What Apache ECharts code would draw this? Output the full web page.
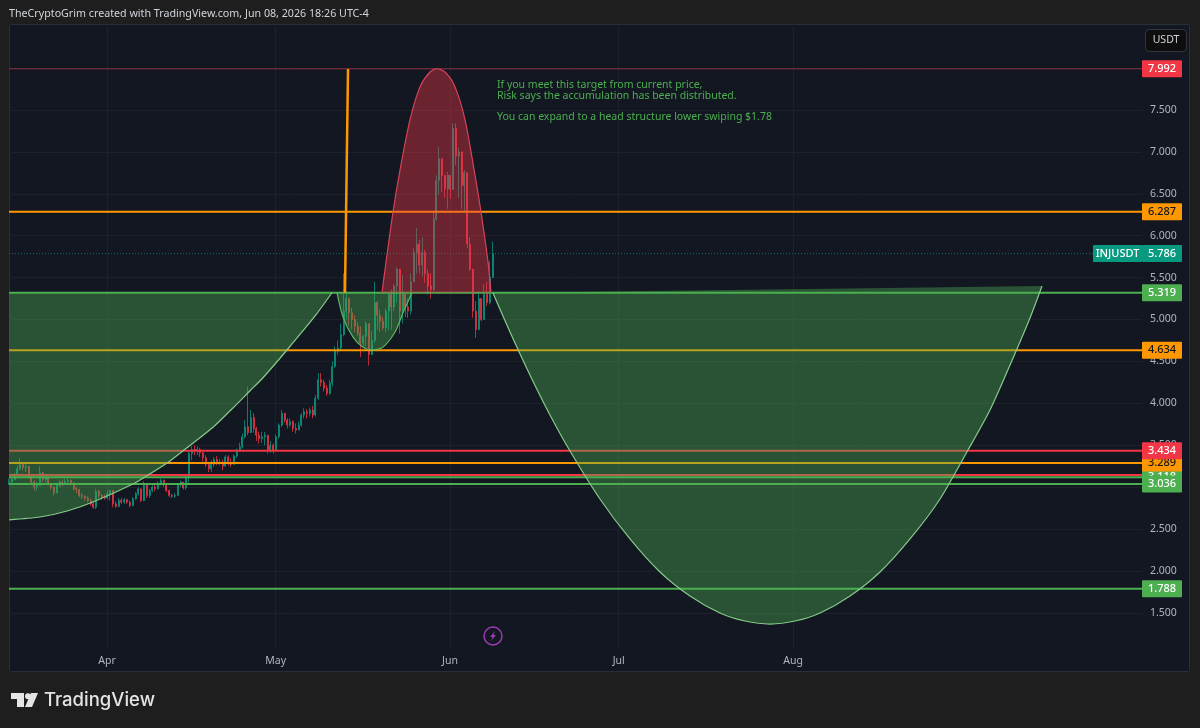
<!DOCTYPE html>
<html>
<head>
<meta charset="utf-8">
<style>html,body{margin:0;padding:0;background:#1e1e1e}#chart{width:1200px;height:728px}</style>
<script src="https://cdn.jsdelivr.net/npm/echarts@6/dist/echarts.min.js"></script>
</head>
<body>
<div id="chart"></div>
<script>
// Time is expressed in day-of-year 2026. Prices in USDT.
const firstCandleDay = 72.57;
const candleStep = 0.5;
const monthTicks = [90, 120, 151, 181, 212];
const monthLabels = ['Apr', 'May', 'Jun', 'Jul', 'Aug'];
const priceTicks = [1.5, 2, 2.5, 3, 3.5, 4, 4.5, 5, 5.5, 6, 6.5, 7, 7.5, 8];

const closes = [
 3.06,3.09,3.15,3.22,3.27,3.23,3.25,3.12,3.06,3.00,3.02,3.17,3.09,3.11,3.04,3.00,2.93,3.02,3.06,3.04,
 3.07,3.08,3.05,2.98,2.97,2.90,2.89,2.87,2.84,2.80,2.76,2.95,2.90,2.88,2.87,2.92,2.96,2.80,2.77,2.84,
 2.82,2.85,2.82,2.78,2.86,2.92,2.98,2.84,3.04,2.90,2.96,3.00,2.98,3.05,3.08,3.03,2.96,2.90,2.89,2.90,
 3.03,3.06,2.99,3.12,3.40,3.45,3.43,3.45,3.41,3.35,3.27,3.22,3.27,3.33,3.29,3.30,3.25,3.36,3.29,3.27,
 3.37,3.44,3.48,3.60,3.72,3.65,3.83,3.70,3.62,3.58,3.60,3.62,3.44,3.50,3.44,3.60,3.74,3.88,3.80,3.74,
 3.78,3.70,3.68,3.74,3.86,3.90,3.88,3.92,3.86,4.06,4.28,4.25,4.18,4.12,4.24,4.44,4.62,4.66,4.82,5.10,
 5.25,5.08,5.00,4.92,4.84,4.72,4.80,4.95,4.58,4.75,5.20,5.05,4.98,4.90,5.10,5.30,5.15,5.40,5.60,5.10,
 5.30,5.15,5.10,5.45,5.80,5.90,5.65,5.80,5.55,5.40,5.36,6.20,6.66,6.92,6.72,6.56,6.72,6.55,7.28,6.95,
 7.00,6.60,6.75,5.90,5.60,5.10,4.88,5.25,5.00,5.30,5.20,5.50,5.786
];
const highs = [
 3.10,3.12,3.17,3.26,3.34,3.30,3.28,3.25,3.14,3.08,3.06,3.25,3.18,3.14,3.12,3.05,3.01,3.05,3.09,3.09,
 3.10,3.11,3.09,3.06,3.00,2.98,2.93,2.90,2.89,2.86,2.82,2.98,2.97,2.92,2.91,2.96,2.97,2.90,2.83,2.87,
 2.87,2.87,2.86,2.84,2.88,2.94,3.00,2.98,3.07,3.04,2.98,3.02,3.03,3.07,3.10,3.09,3.05,2.97,2.92,2.93,
 3.05,3.08,3.06,3.14,3.44,3.49,3.50,3.49,3.47,3.42,3.38,3.30,3.32,3.36,3.37,3.34,3.33,3.38,3.38,3.34,
 3.39,3.46,3.53,3.64,3.80,4.20,3.92,3.88,3.72,3.66,3.66,3.66,3.60,3.55,3.52,3.63,3.76,3.92,3.89,3.82,
 3.82,3.80,3.76,3.78,3.88,3.94,3.93,3.95,3.97,4.10,4.36,4.36,4.28,4.22,4.28,4.50,4.68,4.75,4.95,5.55,
 5.32,5.26,5.14,5.05,4.97,4.92,4.82,4.98,4.80,4.86,5.45,5.22,5.12,5.03,5.13,5.32,5.36,5.42,5.62,5.42,
 5.53,5.30,5.25,5.55,5.85,6.09,5.95,5.98,5.83,5.60,5.55,6.28,6.72,7.06,6.80,6.72,6.76,6.72,7.34,7.34,
 7.05,6.96,6.78,6.40,5.98,5.50,5.22,5.33,5.22,5.42,5.45,5.70,5.93
];
const lows = [
 3.03,3.05,3.08,3.14,3.20,3.20,3.18,3.10,3.03,2.96,2.96,3.03,3.06,3.06,3.02,2.97,2.90,2.93,3.00,3.01,
 3.03,3.04,3.03,2.96,2.93,2.88,2.86,2.84,2.82,2.78,2.74,2.74,2.87,2.85,2.85,2.85,2.84,2.76,2.75,2.76,
 2.80,2.80,2.80,2.76,2.77,2.85,2.90,2.82,2.83,2.87,2.87,2.94,2.95,2.97,3.02,3.00,2.94,2.88,2.87,2.87,
 2.89,3.00,2.97,2.97,3.05,3.32,3.38,3.38,3.36,3.31,3.24,3.18,3.18,3.24,3.26,3.26,3.20,3.25,3.26,3.24,
 3.27,3.35,3.42,3.46,3.58,3.62,3.68,3.65,3.55,3.52,3.53,3.50,3.40,3.41,3.40,3.44,3.58,3.72,3.77,3.70,
 3.72,3.66,3.64,3.68,3.72,3.82,3.82,3.84,3.82,3.84,4.04,4.20,4.14,4.09,4.10,4.20,4.42,4.58,4.62,4.80,
 5.00,4.93,4.88,4.85,4.80,4.55,4.68,4.68,4.45,4.58,4.72,4.88,4.85,4.87,4.85,4.87,4.88,5.10,5.20,4.83,
 4.95,5.03,5.02,5.06,5.45,5.55,5.55,5.52,5.44,5.30,5.25,5.34,6.18,6.49,6.52,6.45,6.32,6.44,6.60,6.84,
 6.45,6.32,6.29,5.85,5.58,5.02,4.78,4.90,4.98,5.08,5.16,5.18,5.50
];

// Price levels, listed in the stacking order of their axis tags.
const levelPrices = [7.992, 6.287, 5.319, 4.634, 3.144, 3.118, 3.289, 3.434, 3.036, 1.788];
const levelKinds  = ['target', 'orange', 'green', 'orange', 'red', 'green', 'orange', 'red', 'green', 'green'];
const lastPrice = 5.786;
const lastSymbol = 'INJUSDT';

// Drawn shapes, as [day, price].
const leftCup = [[72.6,5.319],[72.6,2.61],[78.1,2.643],[82.9,2.715],[87.5,2.822],[94.6,3.037],[97.6,3.156],[101.2,3.312],[104.4,3.479],[108.9,3.717],[112.4,3.944],[115.4,4.147],[117.7,4.302],[122.0,4.636],[127.0,5.042],[130.0,5.319]];
const smallCup = [[130.9,5.319],[131.97,5.03],[133.75,4.79],[135.53,4.67],[137.3,4.636],[139.08,4.67],[141.22,4.85],[142.64,5.08],[144.24,5.319]];
const redDome = [[138.9,5.319],[139.62,5.686],[140.86,6.283],[142.11,6.784],[143.88,7.381],[145.66,7.774],[147.44,7.953],[148.68,7.992],[150.11,7.953],[151.89,7.774],[153.67,7.381],[155.44,6.724],[156.51,6.283],[157.76,5.686],[158.29,5.319]];
const rightCup = [[158.64,5.316],[161.67,4.851],[165.22,4.338],[168.78,3.86],[172.34,3.431],[177.67,2.858],[183.01,2.381],[188.34,1.987],[193.68,1.701],[199.01,1.498],[203.46,1.402],[207.91,1.366],[212.35,1.402],[216.8,1.498],[222.13,1.701],[227.47,1.987],[232.8,2.381],[238.14,2.858],[243.12,3.443],[247.03,3.92],[250.59,4.457],[254.14,5.018],[256.28,5.40]];
const trendLine = [[132.32,5.32],[132.86,7.99]];

const noteLines = ['If you meet this target from current price,', 'Risk says the accumulation has been distributed.', 'You can expand to a head structure lower swiping $1.78'];
const headerText = 'TheCryptoGrim created with TradingView.com, Jun 08, 2026 18:26 UTC-4';

const C = { up:'#089981', down:'#f23645', orange:'#ff9800', green:'#4caf50', pane:'#131722', text:'#b2b5be', grid:'#1d212c' };
const kindStyle = {
  target:{ line:'#8a2f40', width:1, box:'#f23645', ink:'#ffffff' },
  red:{ line:C.down, width:2, box:C.down, ink:'#ffffff' },
  orange:{ line:C.orange, width:2, box:C.orange, ink:'#131722' },
  green:{ line:C.green, width:2, box:C.green, ink:'#ffffff' }
};
const FONT = '"Noto Sans", sans-serif';

const candleData = closes.map((c, i) => {
  const o = i ? closes[i - 1] : lows[0];
  return [firstCandleDay + i * candleStep, o, c, Math.min(lows[i], o, c), Math.max(highs[i], o, c)];
});

function tag(x, y, w, text, box, ink) {
  const h = 17;
  return [
    { type:'rect', shape:{ x, y:y - h / 2, width:w, height:h, r:1 }, style:{ fill:box } },
    { type:'text', style:{ x:x + w / 2, y, text, fill:ink, font:'500 11px ' + FONT, align:'center', verticalAlign:'middle' } }
  ];
}

function shapeSeries(points, fill, stroke, closedCurve, z) {
  return {
    type:'custom', coordinateSystem:'cartesian2d', data:points, encode:{ x:0, y:1 }, z, silent:true,
    renderItem(params, api) {
      if (params.dataIndex !== 0) return null;
      const px = points.map(p => api.coord(p));
      const curve = closedCurve ? px.slice(1) : px;
      return { type:'group', children:[
        { type:'polygon', shape:{ points:px }, style:{ fill, stroke:'none' } },
        { type:'polyline', shape:{ points:curve, smooth:0.25 }, style:{ fill:'none', stroke, lineWidth:1.2 } }
      ]};
    }
  };
}

const chart = echarts.init(document.getElementById('chart'), null, { renderer:'canvas' });
chart.setOption({
  animation:false,
  backgroundColor:'#1e1e1e',
  grid:{ left:9, right:58, top:24, bottom:80, show:false },
  xAxis:{
    type:'value', min:72.57, max:274.06,
    axisLine:{ show:false },
    axisTick:{ show:false, customValues:monthTicks },
    axisLabel:{ customValues:monthTicks, color:C.text, fontFamily:FONT, fontSize:10.5, margin:8,
      formatter:v => monthLabels[monthTicks.indexOf(v)] || '' },
    splitLine:{ show:true, lineStyle:{ color:C.grid, width:1 } }
  },
  yAxis:{
    type:'value', position:'right', min:1.08, max:8.526,
    axisLine:{ show:false },
    axisTick:{ show:false, customValues:priceTicks },
    axisLabel:{ customValues:priceTicks, color:C.text, fontFamily:FONT, fontSize:10.5, margin:8,
      formatter:v => v.toFixed(3) },
    splitLine:{ show:true, lineStyle:{ color:C.grid, width:1 } }
  },
  graphic:{ elements:[
    { type:'rect', z:-1, silent:true, shape:{ x:9.5, y:24.5, width:1180, height:647, r:1 }, style:{ fill:C.pane, stroke:'#2a2e39', lineWidth:1 } },
    { type:'text', z:50, silent:true, style:{ x:9, y:14, text:headerText, fill:'#d1d4dc', font:'10.7px ' + FONT, verticalAlign:'middle' } },
    { type:'text', z:50, silent:true, style:{ x:497, y:85, text:noteLines[0], fill:C.green, font:'10.5px ' + FONT, verticalAlign:'middle' } },
    { type:'text', z:50, silent:true, style:{ x:497, y:96, text:noteLines[1], fill:C.green, font:'10.5px ' + FONT, verticalAlign:'middle' } },
    { type:'text', z:50, silent:true, style:{ x:497, y:117, text:noteLines[2], fill:C.green, font:'10.5px ' + FONT, verticalAlign:'middle' } },
    { type:'rect', z:50, silent:true, shape:{ x:1145.5, y:29.5, width:41, height:22, r:4 }, style:{ fill:'#0e0e0e', stroke:'#33363f', lineWidth:1 } },
    { type:'text', z:51, silent:true, style:{ x:1166, y:40.5, text:'USDT', fill:'#d1d4dc', font:'10.5px ' + FONT, align:'center', verticalAlign:'middle' } },
    { type:'circle', z:50, silent:true, shape:{ cx:493, cy:636, r:9 }, style:{ fill:'none', stroke:'#a23bb8', lineWidth:1.4 } },
    { type:'polygon', z:50, silent:true, shape:{ points:[[495,631],[490,637],[492.7,637],[491,641],[496,635],[493.4,635]] }, style:{ fill:'#a23bb8' } },
    { type:'polygon', z:50, silent:true, shape:{ points:[[11,693],[24,693],[24,707],[17,707],[17,699],[11,699]] }, style:{ fill:'#e4e4e4' } },
    { type:'circle', z:50, silent:true, shape:{ cx:28, cy:696.2, r:3 }, style:{ fill:'#e4e4e4' } },
    { type:'polygon', z:50, silent:true, shape:{ points:[[31,693],[38,693],[32,707],[25,707]] }, style:{ fill:'#e4e4e4' } },
    { type:'text', z:50, silent:true, style:{ x:44, y:700, text:'TradingView', fill:'#e4e4e4', font:'500 18.5px Inter, sans-serif', verticalAlign:'middle' } }
  ]},
  series:[
    {
      type:'candlestick', name:'INJUSDT', data:candleData, z:2, barWidth:1.5, silent:true,
      itemStyle:{ color:C.up, color0:C.down, borderColor:C.up, borderColor0:C.down, borderWidth:1, opacity:0.75 }
    },
    {
      type:'line', data:trendLine, z:3, silent:true, showSymbol:false, clip:false,
      lineStyle:{ color:C.orange, width:2.5 }
    },
    {
      type:'custom', coordinateSystem:'cartesian2d', z:3, silent:true,
      data:levelPrices.map((p, i) => [firstCandleDay, p, i]), encode:{ x:0, y:1 },
      renderItem(params, api) {
        const s = kindStyle[levelKinds[api.value(2)]];
        const y = api.coord([api.value(0), api.value(1)])[1];
        const g = params.coordSys;
        return { type:'group', children:[
          { type:'line', shape:{ x1:g.x, y1:y, x2:g.x + g.width, y2:y }, style:{ stroke:s.line, lineWidth:s.width } },
          ...tag(g.x + g.width, y, 40, api.value(1).toFixed(3), s.box, s.ink)
        ]};
      }
    },
    {
      type:'custom', coordinateSystem:'cartesian2d', z:3, silent:true,
      data:[[firstCandleDay, lastPrice]], encode:{ x:0, y:1 },
      renderItem(params, api) {
        const y = api.coord([api.value(0), api.value(1)])[1];
        const g = params.coordSys;
        return { type:'group', children:[
          { type:'line', shape:{ x1:g.x, y1:y, x2:g.x + g.width, y2:y }, style:{ stroke:C.up, lineWidth:1, lineDash:[1, 2], opacity:0.7 } },
          ...tag(g.x + g.width - 49, y, 49, lastSymbol, C.up, '#ffffff'),
          ...tag(g.x + g.width, y, 40, api.value(1).toFixed(3), C.up, '#ffffff')
        ]};
      }
    },
    shapeSeries(leftCup, 'rgba(76,175,80,0.4)', '#86cc89', true, 4),
    shapeSeries(smallCup, 'rgba(76,175,80,0.4)', '#5cb860', false, 4),
    shapeSeries(redDome, 'rgba(242,54,69,0.4)', '#d8435a', false, 4),
    shapeSeries(rightCup, 'rgba(76,175,80,0.4)', '#86cc89', false, 4)
  ]
});
</script>
</body>
</html>
